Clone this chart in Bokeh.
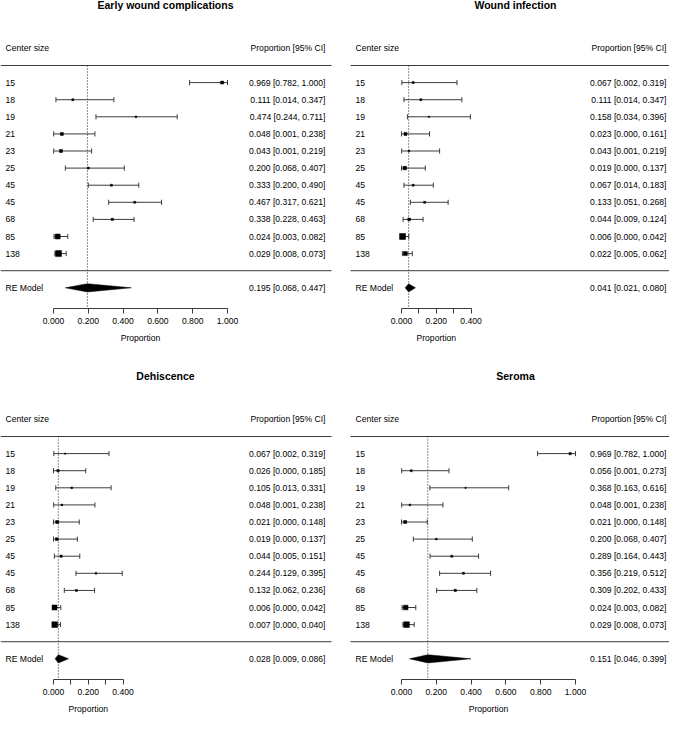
import numpy as np
from bokeh.plotting import figure
from bokeh.layouts import row, column
from bokeh.models import (Range1d, LinearAxis, FixedTicker, NumeralTickFormatter)
from bokeh.core.properties import value
from bokeh.embed import file_html
from bokeh.resources import INLINE

FONT = "Liberation Sans"

# ---------------- data ----------------
centers = ["15", "18", "19", "21", "23", "25", "45", "45", "68", "85", "138"]

early_est = [0.969, 0.111, 0.474, 0.048, 0.043, 0.200, 0.333, 0.467, 0.338, 0.024, 0.029]
early_lo = [0.782, 0.014, 0.244, 0.001, 0.001, 0.068, 0.200, 0.317, 0.228, 0.003, 0.008]
early_hi = [1.000, 0.347, 0.711, 0.238, 0.219, 0.407, 0.490, 0.621, 0.463, 0.082, 0.073]
early_w = [3.0, 2.0, 1.7, 3.0, 3.0, 2.0, 2.0, 2.0, 2.3, 5.0, 6.0]
early_re = [0.195, 0.068, 0.447]

inf_est = [0.067, 0.111, 0.158, 0.023, 0.043, 0.019, 0.067, 0.133, 0.044, 0.006, 0.022]
inf_lo = [0.002, 0.014, 0.034, 0.000, 0.001, 0.000, 0.014, 0.051, 0.009, 0.000, 0.005]
inf_hi = [0.319, 0.347, 0.396, 0.161, 0.219, 0.137, 0.183, 0.268, 0.124, 0.042, 0.062]
inf_w = [2.0, 2.0, 1.3, 3.0, 1.7, 3.5, 2.0, 2.0, 2.7, 6.0, 4.0]
inf_re = [0.041, 0.021, 0.080]

deh_est = [0.067, 0.026, 0.105, 0.048, 0.021, 0.019, 0.044, 0.244, 0.132, 0.006, 0.007]
deh_lo = [0.002, 0.000, 0.013, 0.001, 0.000, 0.000, 0.005, 0.129, 0.062, 0.000, 0.000]
deh_hi = [0.319, 0.185, 0.331, 0.238, 0.148, 0.137, 0.151, 0.395, 0.236, 0.042, 0.040]
deh_w = [1.3, 2.3, 1.7, 1.7, 3.0, 2.7, 2.3, 1.7, 2.0, 5.0, 5.7]
deh_re = [0.028, 0.009, 0.086]

ser_est = [0.969, 0.056, 0.368, 0.048, 0.021, 0.200, 0.289, 0.356, 0.309, 0.024, 0.029]
ser_lo = [0.782, 0.001, 0.163, 0.001, 0.000, 0.068, 0.164, 0.219, 0.202, 0.003, 0.008]
ser_hi = [1.000, 0.273, 0.616, 0.238, 0.148, 0.407, 0.443, 0.512, 0.433, 0.082, 0.073]
ser_w = [2.3, 2.0, 1.3, 1.7, 3.0, 1.7, 2.0, 2.0, 2.3, 4.7, 5.7]
ser_re = [0.151, 0.046, 0.399]

ticks_wide = [0.0, 0.2, 0.4, 0.6, 0.8, 1.0]
labels_wide = ["0.000", "0.200", "0.400", "0.600", "0.800", "1.000"]
ticks_narrow = [0.0, 0.1, 0.2, 0.3, 0.4]
labels_narrow = ["0.000", "", "0.200", "", "0.400"]

# ---------------- layout helpers ----------------
SCALE = 174.0          # px per unit proportion (horizontal)
PITCH = 17.1           # px per row (vertical)
AXIS_Y = -2.21         # where the axis line sits
BOTTOM_PX = 36         # room under the axis for tick labels and axis title
LINE_COL = "#3c3c3c"
TXT = "8.6px"

LEFT = dict(L=0, W=340, p0=53, label=5, tright=325, line_l=0, line_r=331, title=165)
RIGHT = dict(L=340, W=329, p0=401, label=355, tright=666, line_l=350, line_r=669, title=515)


def forest(title, est, lo, hi, w, re, ticks, tlabels, col, upper_h):
    px = lambda v: (v - col["p0"]) / SCALE
    n = len(est)
    ys = list(range(n, 0, -1))
    y_bot = AXIS_Y - BOTTOM_PX / PITCH
    y_top = AXIS_Y + upper_h / PITCH

    p = figure(frame_width=col["W"], frame_height=upper_h + BOTTOM_PX,
               x_range=Range1d(px(col["L"]), px(col["L"] + col["W"])),
               y_range=Range1d(y_bot, y_top),
               output_backend="svg", toolbar_location=None,
               x_axis_location=None, y_axis_location=None,
               min_border_left=0, min_border_right=0,
               min_border_top=0, min_border_bottom=0,
               outline_line_color=None, background_fill_color="white")
    for g in p.grid:
        g.visible = False

    # title (bold, centred over the panel)
    p.text(x=[px(col["title"])], y=[n + 2 + 43 / PITCH], text=[title],
           text_font=value(FONT), text_font_size="10.5px", text_font_style="bold",
           text_align="center", text_baseline="middle", text_color="black")

    # horizontal separator lines
    xl, xr = px(col["line_l"]), px(col["line_r"])
    p.segment(x0=[xl, xl], y0=[n + 1, 0], x1=[xr, xr], y1=[n + 1, 0],
              line_color=LINE_COL, line_width=1)

    # dotted reference line at the pooled estimate
    p.segment(x0=[re[0]], y0=[n + 1], x1=[re[0]], y1=[AXIS_Y],
              line_color="#222222", line_width=1, line_dash="1 2")

    # CIs with end caps
    p.segment(x0=lo, y0=ys, x1=hi, y1=ys, line_color=LINE_COL, line_width=1)
    cap = 0.15
    ys_arr = np.array(ys, dtype=float)
    p.segment(x0=lo, y0=ys_arr - cap, x1=lo, y1=ys_arr + cap, line_color=LINE_COL, line_width=1)
    p.segment(x0=hi, y0=ys_arr - cap, x1=hi, y1=ys_arr + cap, line_color=LINE_COL, line_width=1)

    # weighted squares
    p.scatter(x=est, y=ys, size=w, marker="square",
              fill_color="black", line_color="black", line_width=0.5)

    # RE diamond
    h = 0.24
    p.patch(x=[re[1], re[0], re[2], re[0]], y=[-1, -1 + h, -1, -1 - h],
            fill_color="black", line_color="black", line_width=0.5)

    # texts
    lx = px(col["label"])
    rx = px(col["tright"])
    common = dict(text_font=value(FONT), text_font_size=TXT,
                  text_baseline="middle", text_color="black")
    p.text(x=[lx] * n, y=ys, text=centers, text_align="left", **common)
    p.text(x=[rx] * n, y=ys,
           text=[f"{e:.3f} [{a:.3f}, {b:.3f}]" for e, a, b in zip(est, lo, hi)],
           text_align="right", **common)
    p.text(x=[lx, rx], y=[n + 2, n + 2], text=["Center size", "Proportion [95% CI]"],
           text_align=["left", "right"], **common)
    p.text(x=[lx, rx], y=[-1, -1],
           text=["RE Model", f"{re[0]:.3f} [{re[1]:.3f}, {re[2]:.3f}]"],
           text_align=["left", "right"], **common)

    # axis limited to the data region, drawn at a fixed height inside the plot
    ax = LinearAxis(bounds=(ticks[0], ticks[-1]), ticker=FixedTicker(ticks=ticks),
                    formatter=NumeralTickFormatter(format="0.000"),
                    major_label_overrides=dict(zip(ticks, tlabels)),
                    fixed_location=AXIS_Y)
    ax.axis_line_color = LINE_COL
    ax.major_tick_line_color = LINE_COL
    ax.minor_tick_line_color = None
    ax.major_tick_in = 0
    ax.major_tick_out = 5
    ax.major_label_standoff = 4
    ax.major_label_text_font = FONT
    ax.major_label_text_font_size = TXT
    ax.major_label_text_color = "black"
    p.add_layout(ax, "below")

    # axis title centred under the axis extent
    p.text(x=[(ticks[0] + ticks[-1]) / 2], y=[AXIS_Y - 29 / PITCH], text=["Proportion"],
           text_align="center", **common)
    return p


p1 = forest("Early wound complications", early_est, early_lo, early_hi, early_w, early_re,
            ticks_wide, labels_wide, LEFT, 308)
p2 = forest("Wound infection", inf_est, inf_lo, inf_hi, inf_w, inf_re,
            ticks_narrow, labels_narrow, RIGHT, 308)
p3 = forest("Dehiscence", deh_est, deh_lo, deh_hi, deh_w, deh_re,
            ticks_narrow, labels_narrow, LEFT, 335)
p4 = forest("Seroma", ser_est, ser_lo, ser_hi, ser_w, ser_re,
            ticks_wide, labels_wide, RIGHT, 335)

layout = column(row(p1, p2), row(p3, p4))
open("out.html", "w").write(file_html(layout, INLINE))
